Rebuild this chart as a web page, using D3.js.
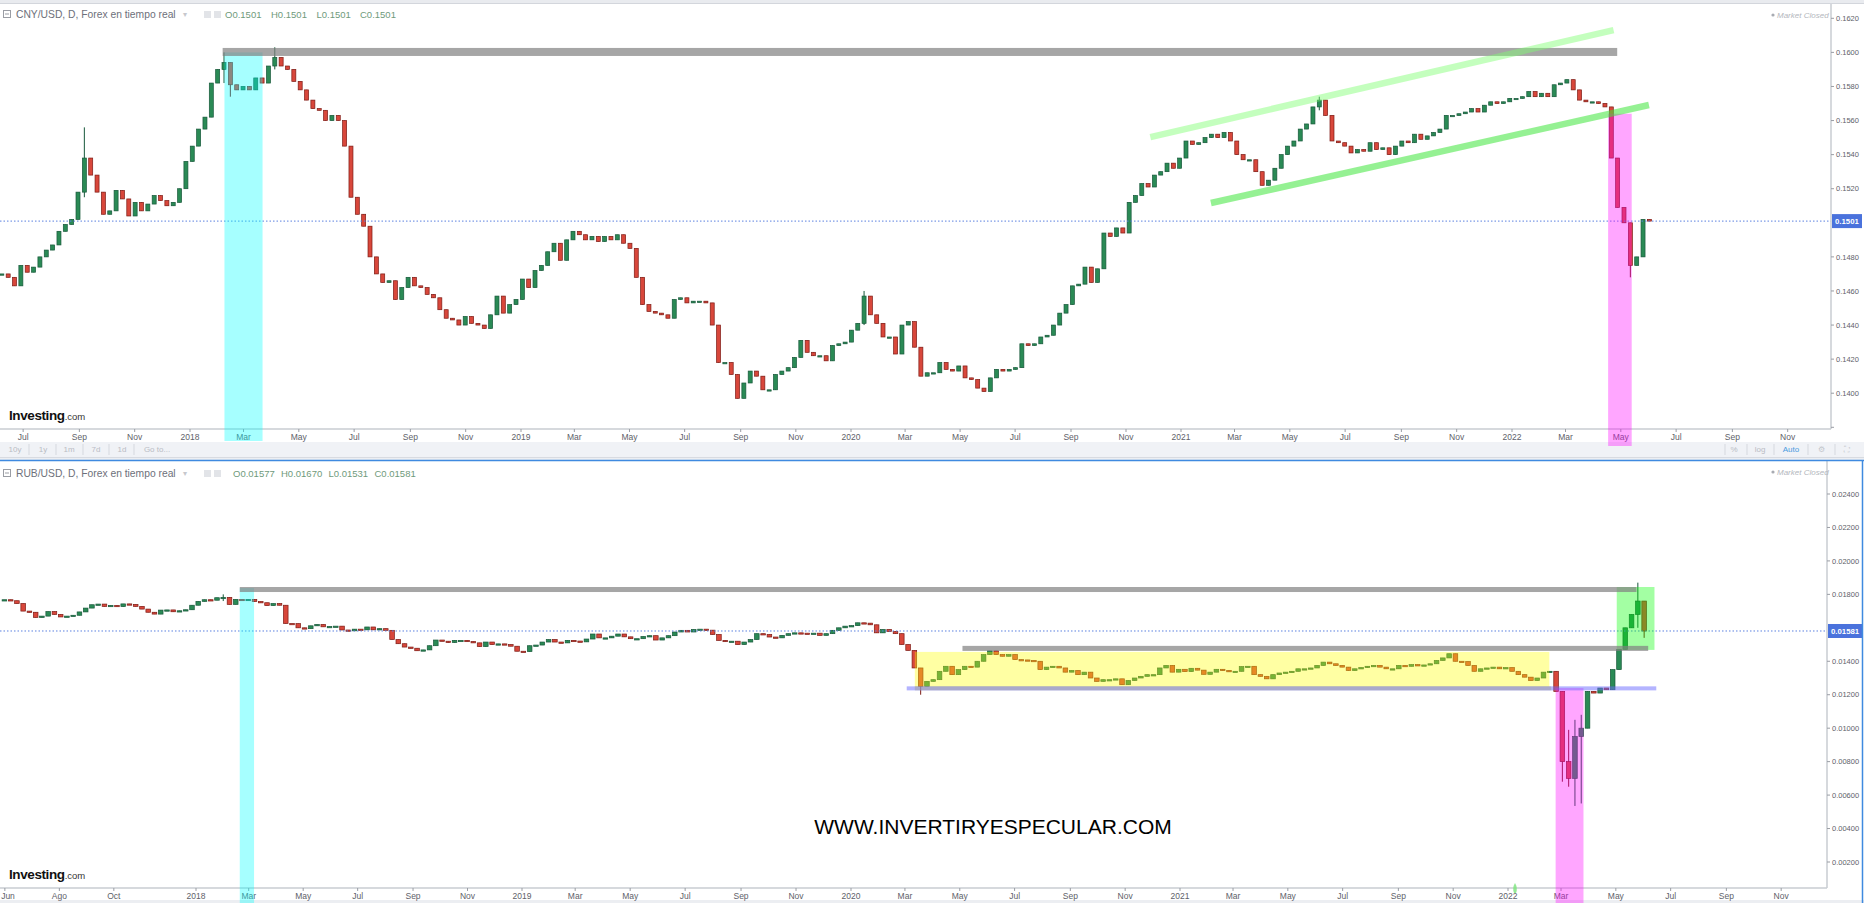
<!DOCTYPE html>
<html><head><meta charset="utf-8">
<script src="https://cdn.jsdelivr.net/npm/d3@7"></script>
<style>body{margin:0;background:#fff;overflow:hidden}svg{display:block}</style>
</head><body>
<svg id="c" width="1864" height="903"></svg>
<script>
// ---------------- DATA ----------------
const yearAnchors = ["2018-01-01","2019-01-01","2020-01-01","2021-01-01","2022-01-01"];

// CNY/USD weekly closes, one per week starting Monday 2017-06-05
const cnyStart = "2017-06-05";
const cnyClose = [
 0.1470,0.1468,0.1463,0.1475, 0.1471,0.1474,0.1480,0.1484,0.1487, 0.1495,0.1499,0.1502,0.1518,
 0.1538,0.1528,0.1518,0.1505, 0.1507,0.1519,0.1514,0.1504,0.1512, 0.1507,0.1511,0.1516,0.1513,
 0.1510,0.1512,0.1520,0.1536,
 0.1545,0.1555,0.1562,0.1582,0.1590, 0.1594,0.1581,0.1578,0.1580, 0.1578,0.1585,0.1582,0.1592,
 0.1597,0.1592,0.1590,0.1583,0.1578, 0.1572,0.1567,0.1566,0.1560, 0.1563,0.1560,0.1545,0.1515,
 0.1505,0.1498,0.1480,0.1470,0.1465, 0.1466,0.1455,0.1462,0.1468, 0.1463,0.1462,0.1458,0.1456,
 0.1449,0.1444,0.1443,0.1440,0.1445, 0.1441,0.1440,0.1438,0.1446, 0.1457,0.1447,0.1452,0.1455,0.1467,
 0.1462,0.1472,0.1475,0.1483, 0.1488,0.1478,0.1490,0.1495, 0.1493,0.1490,0.1492,0.1489,
 0.1492,0.1490,0.1493,0.1488,0.1485, 0.1468,0.1452,0.1448,0.1447, 0.1446,0.1444,0.1455,0.1456,
 0.1453,0.1454,0.1454,0.1453,0.1440, 0.1418,0.1418,0.1411,0.1397, 0.1406,0.1413,0.1410,0.1402,0.1402,
 0.1411,0.1413,0.1415,0.1421, 0.1431,0.1424,0.1422,0.1422, 0.1419,0.1428,0.1429,0.1430,0.1437,
 0.1441,0.1457,0.1446,0.1441, 0.1433,0.1433,0.1423,0.1440, 0.1442,0.1427,0.1410,0.1412,0.1412,
 0.1418,0.1414,0.1413,0.1416, 0.1409,0.1408,0.1403,0.1401, 0.1409,0.1414,0.1413,0.1414,0.1415,
 0.1429,0.1428,0.1429,0.1433, 0.1434,0.1440,0.1447,0.1452,0.1463, 0.1464,0.1474,0.1465,0.1473,
 0.1494,0.1492,0.1497,0.1494, 0.1512,0.1516,0.1523,0.1521,0.1528, 0.1530,0.1535,0.1532,0.1538,
 0.1548,0.1546,0.1547,0.1550, 0.1552,0.1550,0.1553,0.1548, 0.1540,0.1537,0.1537,0.1530,0.1522,
 0.1525,0.1532,0.1540,0.1545, 0.1548,0.1555,0.1558,0.1568,0.1572, 0.1563,0.1548,0.1547,0.1545,
 0.1541,0.1543,0.1542,0.1547, 0.1543,0.1544,0.1540,0.1545,0.1548, 0.1547,0.1552,0.1549,0.1551,
 0.1553,0.1555,0.1563,0.1563, 0.1564,0.1565,0.1567,0.1565,0.1569, 0.1571,0.1570,0.1571,0.1573,
 0.1573,0.1574,0.1577,0.1574,0.1576, 0.1574,0.1581,0.1582,0.1584, 0.1578,0.1572,0.1571,0.1571,
 0.1570,0.1568,0.1538,0.1509, 0.1500,0.1475,0.1480,0.1502,0.1501
];
// [week, high, low] where the wick goes past the body
const cnyWicks = [["2017-09-04",0.1556,0.1515],["2018-02-05",0.1600,0.1582],["2018-02-12",0.1594,0.1574],
 ["2018-04-02",0.1603,0.1590],["2020-01-13",0.1460,0.1440],["2021-05-31",0.1574,0.1566],["2022-05-09",0.1500,0.1468]];

// RUB/USD weekly closes, one per week starting Monday 2017-05-29
const rubStart = "2017-05-29";
const rubClose = [
 0.01768, 0.01762,0.01745,0.01700,0.01693, 0.01662,0.01670,0.01697,0.01680,0.01665,
 0.01670,0.01675,0.01695,0.01718, 0.01738,0.01742,0.01728,0.01734, 0.01727,0.01743,0.01740,0.01728,0.01712,
 0.01693,0.01682,0.01706,0.01707, 0.01696,0.01702,0.01708,0.01735,
 0.01758,0.01768,0.01765,0.01780,0.01782, 0.01740,0.01770,0.01768,0.01770, 0.01757,0.01750,0.01733,0.01745,
 0.01735,0.01626,0.01625,0.01600,0.01595, 0.01612,0.01620,0.01606,0.01608, 0.01610,0.01587,0.01582,0.01592,
 0.01588,0.01605,0.01588,0.01595,0.01585, 0.01530,0.01505,0.01485,0.01478, 0.01463,0.01468,0.01493,0.01527,
 0.01520,0.01512,0.01525,0.01525,0.01518, 0.01510,0.01488,0.01515,0.01500, 0.01504,0.01500,0.01490,0.01460,0.01458,
 0.01493,0.01497,0.01515,0.01530, 0.01515,0.01510,0.01525,0.01521, 0.01516,0.01533,0.01563,0.01540,
 0.01540,0.01550,0.01563,0.01546,0.01535, 0.01535,0.01548,0.01553,0.01527, 0.01540,0.01553,0.01575,0.01585,
 0.01575,0.01590,0.01592,0.01586,0.01560, 0.01525,0.01518,0.01520,0.01500, 0.01515,0.01530,0.01565,0.01560,0.01545,
 0.01540,0.01555,0.01565,0.01570, 0.01568,0.01566,0.01568,0.01555, 0.01565,0.01585,0.01600,0.01610,0.01613,
 0.01630,0.01628,0.01618,0.01570, 0.01590,0.01578,0.01565,0.01500, 0.01465,0.01360,0.01250,0.01280,0.01290,
 0.01340,0.01370,0.01320,0.01350, 0.01370,0.01365,0.01400,0.01440, 0.01462,0.01440,0.01430,0.01440,0.01410,
 0.01408,0.01405,0.01400,0.01350, 0.01365,0.01370,0.01360,0.01335,0.01345, 0.01320,0.01335,0.01300,0.01280,
 0.01290,0.01290,0.01295,0.01260, 0.01285,0.01300,0.01310,0.01320,0.01320, 0.01360,0.01375,0.01335,0.01352,
 0.01338,0.01358,0.01347,0.01322, 0.01335,0.01352,0.01345,0.01337, 0.01340,0.01368,0.01370,0.01320,0.01310,
 0.01295,0.01320,0.01330,0.01335, 0.01340,0.01355,0.01355,0.01360,0.01375, 0.01395,0.01385,0.01375,0.01365,
 0.01345,0.01355,0.01362,0.01370, 0.01375,0.01365,0.01355,0.01355,0.01375, 0.01370,0.01380,0.01372,0.01378,
 0.01385,0.01405,0.01420,0.01445, 0.01400,0.01398,0.01375,0.01340,0.01355, 0.01360,0.01365,0.01355,0.01362,
 0.01340,0.01320,0.01305,0.01285,0.01300, 0.01335,0.01340,0.01220,0.00800, 0.00700,0.00950,0.01000,0.01220,
 0.01210,0.01240,0.01230,0.01350, 0.01470,0.01600,0.01680,0.01760,0.01581
];
const rubWicks = [["2018-01-29",0.01800,0.01760],["2020-03-16",0.01360,0.01200],["2022-02-28",0.01220,0.00680],
 ["2022-03-07",0.00990,0.00650],["2022-03-14",0.01050,0.00535],["2022-03-21",0.01080,0.00550],
 ["2022-05-23",0.01870,0.01600],["2022-05-30",0.01760,0.01540]];

// axis ticks
const cnyTicks = [0.1620,0.1600,0.1580,0.1560,0.1540,0.1520,0.1480,0.1460,0.1440,0.1420,0.1400,0.1380];
const rubTicks = [0.024,0.022,0.020,0.018,0.014,0.012,0.010,0.008,0.006,0.004,0.002];
const topTickDates = ["2017-07-01","2017-09-01","2017-11-01",
 "2018-01-01","2018-03-01","2018-05-01","2018-07-01","2018-09-01","2018-11-01",
 "2019-01-01","2019-03-01","2019-05-01","2019-07-01","2019-09-01","2019-11-01",
 "2020-01-01","2020-03-01","2020-05-01","2020-07-01","2020-09-01","2020-11-01",
 "2021-01-01","2021-03-01","2021-05-01","2021-07-01","2021-09-01","2021-11-01",
 "2022-01-01","2022-03-01","2022-05-01","2022-07-01","2022-09-01","2022-11-01"];
const topTickLabels = ["Jul","Sep","Nov","2018","Mar","May","Jul","Sep","Nov","2019","Mar","May","Jul","Sep","Nov",
 "2020","Mar","May","Jul","Sep","Nov","2021","Mar","May","Jul","Sep","Nov","2022","Mar","May","Jul","Sep","Nov"];
const botTickDates = ["2017-06-01","2017-08-01","2017-10-01",
 "2018-01-01","2018-03-01","2018-05-01","2018-07-01","2018-09-01","2018-11-01",
 "2019-01-01","2019-03-01","2019-05-01","2019-07-01","2019-09-01","2019-11-01",
 "2020-01-01","2020-03-01","2020-05-01","2020-07-01","2020-09-01","2020-11-01",
 "2021-01-01","2021-03-01","2021-05-01","2021-07-01","2021-09-01","2021-11-01",
 "2022-01-01","2022-03-01","2022-05-01","2022-07-01","2022-09-01","2022-11-01"];
const botTickLabels = ["Jun","Ago","Oct","2018","Mar","May","Jul","Sep","Nov","2019","Mar","May","Jul","Sep","Nov",
 "2020","Mar","May","Jul","Sep","Nov","2021","Mar","May","Jul","Sep","Nov","2022","Mar","May","Jul","Sep","Nov"];

const cnyLast = 0.1501, rubLast = 0.01581;

// ---------------- DRAW ----------------
const parse = d3.timeParse("%Y-%m-%d");
const fmtD = d3.timeFormat("%Y-%m-%d");
const svg = d3.select("#c");
const FONT = "'Liberation Sans', Arial, sans-serif";

const xTop = d3.scaleTime().domain(yearAnchors.map(parse)).range([190,521,851,1181,1512]);
const yTop = d3.scaleLinear().domain([0.1380,0.1620]).range([427.3,18.3]);
const xBot = d3.scaleTime().domain(yearAnchors.map(parse)).range([196,522,851,1180,1508]);
const yBot = d3.scaleLinear().domain([0.002,0.024]).range([862,494]);

const defs = svg.append("defs");
defs.append("clipPath").attr("id","clipTop").append("rect").attr("x",0).attr("y",4).attr("width",1831).attr("height",425);
defs.append("clipPath").attr("id","clipBot").append("rect").attr("x",0).attr("y",461).attr("width",1827).attr("height",427);

// frames / backgrounds
svg.append("rect").attr("x",0).attr("y",0).attr("width",1864).attr("height",3).attr("fill","#e9ebef");
svg.append("line").attr("x1",0).attr("x2",1864).attr("y1",3.5).attr("y2",3.5).attr("stroke","#d3d6dc");
svg.append("rect").attr("x",0).attr("y",442).attr("width",1864).attr("height",15).attr("fill","#f0f2f6");
svg.append("line").attr("x1",0).attr("x2",1864).attr("y1",457.5).attr("y2",457.5).attr("stroke","#d8dbe1");
svg.append("rect").attr("x",0).attr("y",458).attr("width",1864).attr("height",2).attr("fill","#eceef2");
svg.append("rect").attr("x",0).attr("y",900).attr("width",1864).attr("height",3).attr("fill","#eceef2");

function drawCandles(g, startStr, closes, wicks, x, y, bw){
  const s = parse(startStr);
  const wm = new Map(wicks.map(w=>[w[0],w]));
  const data = closes.map((c,i)=>{
    const d = d3.timeDay.offset(s, 7*i);
    const o = i>0 ? closes[i-1] : c;
    const w = wm.get(fmtD(d));
    return {d,o,c,h: w?w[1]:Math.max(o,c), l: w?w[2]:Math.min(o,c)};
  });
  const cx = k => x(d3.timeHour.offset(k.d,60));
  g.selectAll("line.wk").data(data).join("line").attr("class","wk")
    .attr("x1",cx).attr("x2",cx).attr("y1",k=>y(k.h)).attr("y2",k=>y(k.l))
    .attr("stroke",k=>k.c>=k.o?"#17583a":"#7d1b14").attr("stroke-width",1);
  g.selectAll("rect.bd").data(data).join("rect").attr("class","bd")
    .attr("x",k=>cx(k)-bw/2).attr("width",bw)
    .attr("y",k=>y(Math.max(k.o,k.c))).attr("height",k=>Math.max(1.3,Math.abs(y(k.o)-y(k.c))))
    .attr("fill",k=>k.c>=k.o?"#2a8a55":"#d8473b")
    .attr("stroke",k=>k.c>=k.o?"#17583a":"#7d1b14").attr("stroke-width",0.7);
}

function xAxis(x, dates, labels, yLine, yLabel, xMax){
  const g = svg.append("g");
  g.append("line").attr("x1",0).attr("x2",xMax).attr("y1",yLine).attr("y2",yLine).attr("stroke","#c9ccd2").attr("stroke-width",1.5);
  dates.forEach((ds,i)=>{
    const xx = x(parse(ds));
    g.append("line").attr("x1",xx).attr("x2",xx).attr("y1",yLine).attr("y2",yLine+3).attr("stroke","#9a9da4");
    g.append("text").attr("x",Math.max(xx,8)).attr("y",yLabel).attr("text-anchor","middle")
      .attr("font-family",FONT).attr("font-size",8.5).attr("fill","#5e6169").text(labels[i]);
  });
}

function yAxis(y, ticks, fmt, xLine, y0, y1){
  const g = svg.append("g");
  g.append("line").attr("x1",xLine).attr("x2",xLine).attr("y1",y0).attr("y2",y1).attr("stroke","#c9ccd2").attr("stroke-width",1.5);
  ticks.forEach(t=>{
    const yy = y(t);
    g.append("line").attr("x1",xLine).attr("x2",xLine+3).attr("y1",yy).attr("y2",yy).attr("stroke","#9a9da4");
    if (yy < y1-4) g.append("text").attr("x",xLine+5).attr("y",yy+2.7).attr("font-family",FONT).attr("font-size",7.5)
      .attr("fill","#5e6169").text(fmt(t));
  });
}

function header(y, title, vals){
  const g = svg.append("g");
  g.append("rect").attr("x",3.5).attr("y",y-7.5).attr("width",7).attr("height",7).attr("fill","none").attr("stroke","#9a9da4");
  g.append("line").attr("x1",5).attr("x2",9).attr("y1",y-4).attr("y2",y-4).attr("stroke","#9a9da4");
  g.append("text").attr("x",16).attr("y",y).attr("font-family",FONT).attr("font-size",10.3).attr("fill","#6d707a").text(title);
  g.append("text").attr("x",183).attr("y",y-1).attr("font-family",FONT).attr("font-size",8).attr("fill","#c6c8cd").text("▾");
  g.append("rect").attr("x",204).attr("y",y-7).attr("width",7).attr("height",7).attr("fill","#e2e4e8");
  g.append("rect").attr("x",214).attr("y",y-7).attr("width",7).attr("height",7).attr("fill","#e2e4e8");
  vals.forEach(v=>{
    g.append("text").attr("x",v[0]).attr("y",y).attr("font-family",FONT).attr("font-size",9.5)
      .attr("fill","#6f9a7b").text(v[1]);
  });
}

function marketClosed(y){
  svg.append("circle").attr("cx",1773).attr("cy",y-3).attr("r",1.6).attr("fill","#a8abb2");
  svg.append("text").attr("x",1777).attr("y",y).attr("font-family",FONT).attr("font-size",8)
    .attr("font-style","italic").attr("fill","#b4b7bd").text("Market Closed");
}

function logo(y){
  const t = svg.append("text").attr("x",9).attr("y",y).attr("font-family",FONT);
  t.append("tspan").attr("font-size",13.5).attr("font-weight","bold").attr("fill","#111").attr("letter-spacing",-0.4).text("Investing");
  t.append("tspan").attr("font-size",9.5).attr("fill","#333").text(".com");
}

function priceTag(x, yy, w, txt){
  svg.append("rect").attr("x",x).attr("y",yy-7).attr("width",w).attr("height",14).attr("fill","#4a72dc");
  svg.append("text").attr("x",x+3).attr("y",yy+3).attr("font-family",FONT).attr("font-size",7.8)
    .attr("font-weight","bold").attr("fill","#fff").text(txt);
}

// v0/v1: a data value, or {px: n} for a fixed pixel row
function band(g, x, y, d0, d1, v0, v1, fill, op){
  const xa = x(parse(d0)), xb = x(parse(d1));
  const ya = (typeof v0==="object") ? v0.px : y(v0), yb = (typeof v1==="object") ? v1.px : y(v1);
  g.append("rect").attr("x",xa).attr("width",xb-xa).attr("y",Math.min(ya,yb)).attr("height",Math.abs(yb-ya))
    .attr("fill",fill).attr("fill-opacity",op);
}

// ================= TOP PANEL: CNY/USD =================
const gTop = svg.append("g").attr("clip-path","url(#clipTop)");
drawCandles(gTop, cnyStart, cnyClose, cnyWicks, xTop, yTop, 4.0);
gTop.append("line").attr("x1",0).attr("x2",1831).attr("y1",yTop(cnyLast)).attr("y2",yTop(cnyLast))
  .attr("stroke","#5b80e0").attr("stroke-dasharray","1.5,2").attr("stroke-width",1);

xAxis(xTop, topTickDates, topTickLabels, 429, 440, 1831);
yAxis(yTop, cnyTicks, d3.format(".4f"), 1831, 4, 429);

const ovTop = svg.append("g");
band(ovTop, xTop, yTop, "2018-02-08", "2018-03-22", 0.1600, {px:441}, "#00ffff", 0.35);
band(ovTop, xTop, yTop, "2022-04-17", "2022-05-13", 0.1564, {px:446}, "#ff00ff", 0.35);
band(ovTop, xTop, yTop, "2018-02-06", "2022-04-27", 0.16026, 0.15979, "#808080", 0.7);
const chan = [[["2020-11-28",0.15503],["2022-04-23",0.16131],"#7dff6e",0.45],
              [["2021-02-03",0.15116],["2022-06-01",0.15691],"#3ee63a",0.55]];
chan.forEach(c=>{
  ovTop.append("line").attr("x1",xTop(parse(c[0][0]))).attr("y1",yTop(c[0][1]))
    .attr("x2",xTop(parse(c[1][0]))).attr("y2",yTop(c[1][1]))
    .attr("stroke",c[2]).attr("stroke-opacity",c[3]).attr("stroke-width",6.5);
});
priceTag(1832, yTop(cnyLast), 30, "0.1501");
header(18, "CNY/USD, D, Forex en tiempo real", [[225,"O0.1501"],[271,"H0.1501"],[316.5,"L0.1501"],[360,"C0.1501"]]);
marketClosed(18);
logo(420);

// toolbar
const tb = svg.append("g").attr("font-family",FONT).attr("font-size",8).attr("fill","#b9bcc4");
[["10y",15],["1y",43],["1m",69],["7d",96],["1d",122],["Go to...",157]].forEach(t=>{
  tb.append("text").attr("x",t[1]).attr("y",452).attr("text-anchor","middle").text(t[0]);
});
[29,56,83,109,134].forEach(x=>tb.append("line").attr("x1",x).attr("x2",x).attr("y1",444).attr("y2",455).attr("stroke","#d5d8de"));
[["%",1734,"#b9bcc4"],["log",1760,"#b9bcc4"],["Auto",1791,"#4a9be0"],["⚙",1821,"#c3c6cc"],["⛶",1847,"#c3c6cc"]].forEach(t=>{
  tb.append("text").attr("x",t[1]).attr("y",452).attr("text-anchor","middle").attr("fill",t[2]).text(t[0]);
});
[1725,1747,1774,1808,1835].forEach(x=>tb.append("line").attr("x1",x).attr("x2",x).attr("y1",444).attr("y2",455).attr("stroke","#d5d8de"));

// ================= BOTTOM PANEL: RUB/USD =================
const gBot = svg.append("g").attr("clip-path","url(#clipBot)");
drawCandles(gBot, rubStart, rubClose, rubWicks, xBot, yBot, 4.6);
gBot.append("line").attr("x1",0).attr("x2",1827).attr("y1",yBot(rubLast)).attr("y2",yBot(rubLast))
  .attr("stroke","#5b80e0").attr("stroke-dasharray","1.5,2").attr("stroke-width",1);

xAxis(xBot, botTickDates, botTickLabels, 888, 899, 1827);
yAxis(yBot, rubTicks, d3.format(".5f"), 1827, 461, 888);

const ovBot = svg.append("g");
band(ovBot, xBot, yBot, "2018-02-19", "2018-03-07", 0.01838, {px:903}, "#00ffff", 0.35);
band(ovBot, xBot, yBot, "2020-03-12", "2022-02-16", 0.01456, 0.01247, "#ffff00", 0.36);
band(ovBot, xBot, yBot, "2022-02-23", "2022-03-26", 0.01240, {px:903}, "#ff00ff", 0.35);
band(ovBot, xBot, yBot, "2022-05-02", "2022-06-13", 0.01844, 0.01468, "#00ff00", 0.36);
band(ovBot, xBot, yBot, "2020-03-03", "2022-06-15", 0.01250, 0.01226, "#6a6aff", 0.5);
band(ovBot, xBot, yBot, "2018-02-19", "2022-05-24", 0.01844, 0.01814, "#808080", 0.7);
band(ovBot, xBot, yBot, "2020-05-04", "2022-06-06", 0.01492, 0.01462, "#808080", 0.7);
band(ovBot, xBot, yBot, "2020-03-12", "2022-02-18", 0.01250, 0.01226, "#a0a0a0", 0.55);

priceTag(1828, yBot(rubLast), 34, "0.01581");
header(477, "RUB/USD, D, Forex en tiempo real", [[233,"O0.01577"],[281,"H0.01670"],[328.5,"L0.01531"],[374.5,"C0.01581"]]);
marketClosed(475);
logo(879);
svg.append("path").attr("d","M1514,893 Q1512,888 1515,883 Q1518,888 1516,893 Z").attr("fill","#7be37b").attr("opacity",0.8);

// watermark
svg.append("text").attr("x",993).attr("y",834).attr("text-anchor","middle").attr("font-family",FONT)
  .attr("font-size",21).attr("fill","#000").text("WWW.INVERTIRYESPECULAR.COM");

// selected-pane frame (blue)
svg.append("line").attr("x1",0).attr("x2",1864).attr("y1",460.5).attr("y2",460.5).attr("stroke","#3f8ae0").attr("stroke-width",1.5);
svg.append("line").attr("x1",1862.5).attr("x2",1862.5).attr("y1",460).attr("y2",903).attr("stroke","#3f8ae0").attr("stroke-width",1.5);
</script>
</body></html>
